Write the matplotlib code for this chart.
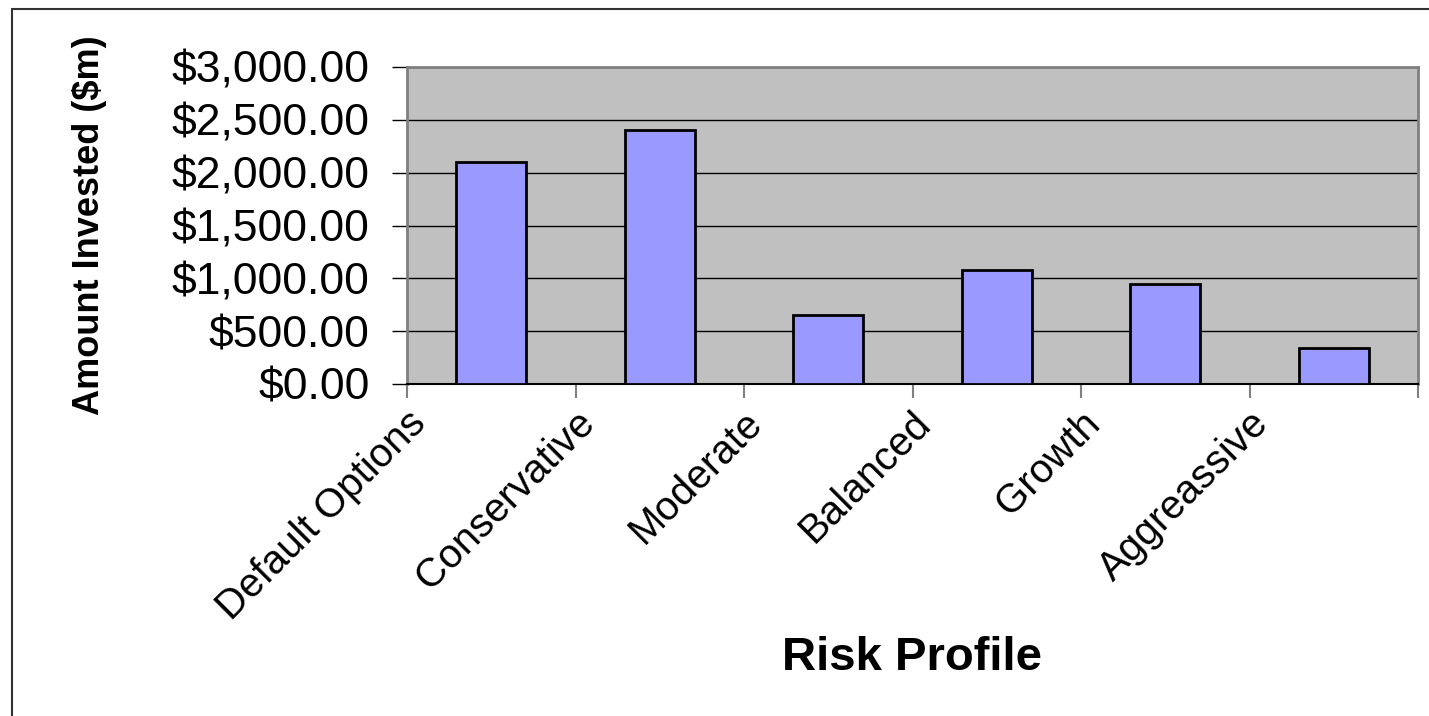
import matplotlib.pyplot as plt
import matplotlib.patches as mpatches
import matplotlib.ticker as mticker
import matplotlib.transforms as mtrans

# data
categories = ['Default Options', 'Conservative', 'Moderate', 'Balanced', 'Growth', 'Aggreassive']
amounts = [2100, 2400, 650, 1080, 950, 340]
y_ticks = [0, 500, 1000, 1500, 2000, 2500, 3000]

plt.rcParams['font.family'] = ['Liberation Sans', 'DejaVu Sans']

fig = plt.figure(figsize=(14.29, 7.16), dpi=100)
ax = fig.add_axes([407 / 1429, 1 - 384 / 716, (1418 - 407) / 1429, (384 - 67) / 716])
ax.set_facecolor('#c0c0c0')

x = list(range(len(categories)))
ax.bar(x, amounts, width=0.415, color='#9999ff', edgecolor='black', linewidth=2, zorder=3)

ax.set_xlim(-0.5, len(categories) - 0.5)
ax.set_ylim(0, 3000)
ax.set_yticks(y_ticks)
ax.yaxis.set_major_formatter(mticker.FuncFormatter(lambda v, _: f'${v:,.2f}'))
ax.grid(axis='y', color='black', linewidth=1, zorder=1)
ax.set_axisbelow(True)
ax.tick_params(axis='y', labelsize=32, length=11, width=1, pad=16, colors='black')

# category boundary ticks, labels drawn separately
ax.set_xticks([i - 0.5 for i in range(len(categories) + 1)])
ax.set_xticklabels([])
ax.tick_params(axis='x', length=10, width=1.5, color='#808080')

for side in ['left', 'top', 'right']:
    ax.spines[side].set_color('#808080')
    ax.spines[side].set_linewidth(2)
ax.spines['bottom'].set_color('black')
ax.spines['bottom'].set_linewidth(1.5)

offset = mtrans.ScaledTranslation(0, -33 / 100, fig.dpi_scale_trans)
for i, name in enumerate(categories):
    ax.text(i - 0.5 + 0.075, 0, name, transform=ax.get_xaxis_transform() + offset,
            rotation=45, rotation_mode='anchor', ha='right', va='center', fontsize=29)

ax.set_ylabel('Amount Invested ($m)', fontsize=26, fontweight='bold')
ax.yaxis.set_label_coords(-0.297, 0.5)
fig.text(912 / 1429, 1 - 658 / 716, 'Risk Profile', fontsize=34, fontweight='bold',
         ha='center', va='center')

# outer chart border
fig.patches.append(mpatches.Rectangle((12 / 1429, -0.05), 1.1, 1 - 9 / 716 + 0.05,
                                      transform=fig.transFigure, fill=False,
                                      edgecolor='#333333', linewidth=1.5))

plt.savefig('out.png', dpi=100)
